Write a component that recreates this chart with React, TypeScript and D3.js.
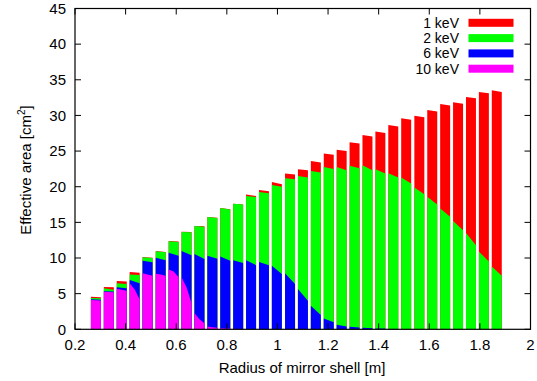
import React from "react";
import * as d3 from "d3";

// Shell radii (m): inner and outer edge of each mirror shell
const shellInner = [0.263, 0.314, 0.365, 0.416, 0.467, 0.519, 0.570, 0.621, 0.672, 0.723, 0.774, 0.825, 0.876, 0.927, 0.978, 1.030, 1.081, 1.132, 1.183, 1.234, 1.285, 1.336, 1.387, 1.438, 1.489, 1.541, 1.592, 1.643, 1.694, 1.745, 1.796, 1.847];
const shellOuter = shellInner.map((r) => +(r + 0.0395).toFixed(4));

// Effective area (cm^2) at inner edge / outer edge of each shell
const area1keVIn = [4.55, 5.95, 6.77, 8.03, 10.15, 11.0, 12.4, 13.7, 14.5, 15.75, 17.0, 17.6, 18.9, 19.55, 20.65, 21.85, 22.45, 23.6, 24.65, 25.2, 26.25, 27.25, 27.75, 28.65, 29.6, 29.95, 30.75, 31.6, 31.85, 32.6, 33.3, 33.55];
const area1keVOut = [4.5, 5.9, 6.7, 7.95, 10.05, 10.85, 12.3, 13.65, 14.45, 15.65, 16.85, 17.5, 18.7, 19.35, 20.35, 21.7, 22.3, 23.4, 24.5, 25.0, 26.05, 27.05, 27.55, 28.45, 29.4, 29.75, 30.55, 31.4, 31.65, 32.4, 33.1, 33.3];
const area2keVIn = [4.4, 5.75, 6.45, 7.7, 10.1, 10.95, 12.35, 13.65, 14.48, 15.74, 17.0, 17.6, 18.7, 19.25, 20.25, 21.2, 21.5, 22.2, 22.75, 22.75, 22.95, 23.0, 22.45, 21.9, 21.3, 19.9, 18.6, 16.95, 15.2, 13.5, 10.9, 8.8];
const area2keVOut = [4.35, 5.55, 6.35, 7.6, 10.0, 10.8, 12.25, 13.6, 14.4, 15.6, 16.8, 17.5, 18.55, 19.1, 20.0, 21.05, 21.3, 22.0, 22.5, 22.3, 22.6, 22.3, 21.85, 21.3, 20.45, 18.95, 17.5, 15.8, 13.9, 11.8, 9.5, 7.5];
const area6keVIn = [4.2, 5.35, 5.9, 6.9, 9.6, 10.05, 10.75, 11.0, 10.55, 10.3, 10.2, 9.7, 9.7, 9.45, 8.9, 7.85, 5.65, 3.3, 1.5, 0.65, 0.35, 0.2, 0.1, 0.05, 0, 0, 0, 0, 0, 0, 0, 0];
const area6keVOut = [4.15, 5.3, 5.75, 6.45, 9.4, 9.7, 10.3, 10.4, 9.85, 9.9, 9.6, 9.3, 9.0, 9.0, 7.75, 6.35, 4.0, 2.0, 1.0, 0.4, 0.25, 0.15, 0.1, 0.05, 0, 0, 0, 0, 0, 0, 0, 0];
const area10keVIn = [4.1, 5.27, 5.7, 6.45, 7.85, 7.8, 8.4, 7.3, 2.3, 0.4, 0.15, 0.05, 0, 0, 0, 0, 0, 0, 0, 0, 0, 0, 0, 0, 0, 0, 0, 0, 0, 0, 0, 0];
const area10keVMid = [4.08, 5.24, 5.55, 5.6, 7.7, 7.7, 8.1, 5.9, 1.4, 0.3, 0.12, 0.05, 0, 0, 0, 0, 0, 0, 0, 0, 0, 0, 0, 0, 0, 0, 0, 0, 0, 0, 0, 0];
const area10keVOut = [4.05, 5.2, 5.4, 4.2, 7.5, 7.5, 7.3, 3.7, 0.85, 0.2, 0.1, 0.05, 0, 0, 0, 0, 0, 0, 0, 0, 0, 0, 0, 0, 0, 0, 0, 0, 0, 0, 0, 0];

const energyLabels = ["1 keV", "2 keV", "6 keV", "10 keV"];
const energyColors = ["#ff0000", "#00ff00", "#0000ff", "#ff00ff"];

const xTicks = [0.2, 0.4, 0.6, 0.8, 1, 1.2, 1.4, 1.6, 1.8, 2];
const yTicks = [0, 5, 10, 15, 20, 25, 30, 35, 40, 45];

const W = 537;
const H = 381;
const FONT = "'Liberation Sans', Arial, Helvetica, sans-serif";
const FS = 15;

export default function App() {
  const x = d3.scaleLinear().domain([0.2, 2]).range([75, 530.5]);
  const y = d3.scaleLinear().domain([0, 45]).range([329.3, 8.5]);

  const series: { pts: [number, number][] }[][] = [
    shellInner.map((r, i) => ({ pts: [[r, area1keVIn[i]], [shellOuter[i], area1keVOut[i]]] })),
    shellInner.map((r, i) => ({ pts: [[r, area2keVIn[i]], [shellOuter[i], area2keVOut[i]]] })),
    shellInner.map((r, i) => ({ pts: [[r, area6keVIn[i]], [shellOuter[i], area6keVOut[i]]] })),
    shellInner.map((r, i) => ({
      pts: [
        [r, area10keVIn[i]],
        [(r + shellOuter[i]) / 2, area10keVMid[i]],
        [shellOuter[i], area10keVOut[i]],
      ],
    })),
  ];

  const area = d3
    .area<[number, number]>()
    .x((d) => x(d[0]))
    .y0(y(0))
    .y1((d) => y(d[1]));

  const x0 = x.range()[0];
  const x1 = x.range()[1];
  const yb = y.range()[0];
  const yt = y.range()[1];
  const tl = 6;

  return (
    <svg
      width={W}
      height={H}
      style={{ position: "absolute", left: 0, top: 0, background: "#fff" }}
      fontFamily={FONT}
    >
      <rect x={0} y={0} width={W} height={H} fill="#fff" />
      {series.map((s, si) => (
        <g key={si} fill={energyColors[si]}>
          {s.map((d, i) =>
            d.pts.some((p) => p[1] > 0) ? <path key={i} d={area(d.pts) || ""} /> : null
          )}
        </g>
      ))}

      {/* ticks */}
      <g stroke="#000" strokeWidth={1}>
        {xTicks.map((t) => (
          <g key={"xt" + t}>
            <line x1={x(t)} x2={x(t)} y1={yb} y2={yb - tl} />
            <line x1={x(t)} x2={x(t)} y1={yt} y2={yt + tl} />
          </g>
        ))}
        {yTicks.map((t) => (
          <g key={"yt" + t}>
            <line x1={x0} x2={x0 + tl} y1={y(t)} y2={y(t)} />
            <line x1={x1} x2={x1 - tl} y1={y(t)} y2={y(t)} />
          </g>
        ))}
      </g>
      <rect x={x0} y={yt} width={x1 - x0} height={yb - yt} fill="none" stroke="#000" strokeWidth={1.2} />

      {/* tick labels */}
      <g fontSize={FS} fill="#000">
        {xTicks.map((t) => (
          <text key={"xl" + t} x={x(t)} y={350} textAnchor="middle">
            {String(t)}
          </text>
        ))}
        {yTicks.map((t) => (
          <text key={"yl" + t} x={66} y={y(t)} dy="0.35em" textAnchor="end">
            {String(t)}
          </text>
        ))}
      </g>

      {/* axis titles */}
      <text x={302} y={373} textAnchor="middle" fontSize={FS} fill="#000">
        Radius of mirror shell [m]
      </text>
      <text transform="translate(31,170) rotate(-90)" textAnchor="middle" fontSize={FS} fill="#000">
        Effective area [cm<tspan dy={-6} fontSize={10}>2</tspan>
        <tspan dy={6}>]</tspan>
      </text>

      {/* legend */}
      <g fontSize={14} fill="#000">
        {energyLabels.map((lab, i) => (
          <g key={lab}>
            <text x={459} y={22.8 + i * 15.3} dy="0.35em" textAnchor="end">
              {lab}
            </text>
            <rect x={468.5} y={22.8 + i * 15.3 - 4} width={45} height={8} fill={energyColors[i]} />
          </g>
        ))}
      </g>
    </svg>
  );
}
